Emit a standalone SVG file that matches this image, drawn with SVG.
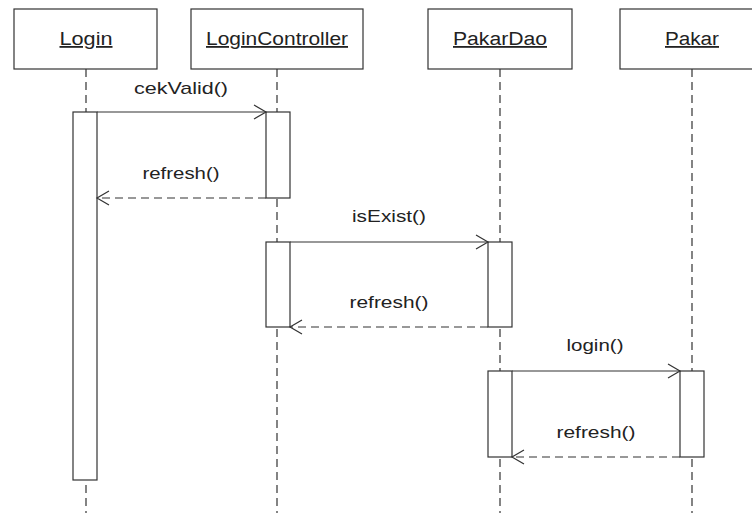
<svg xmlns="http://www.w3.org/2000/svg" width="752" height="513" viewBox="0 0 752 513">
  <style>
    .box { fill: #ffffff; stroke: #333333; stroke-width: 1.2; }
    .life { stroke: #333333; stroke-width: 1.2; stroke-dasharray: 8 5; fill: none; }
    .act { fill: #ffffff; stroke: #333333; stroke-width: 1.2; }
    .title { font-family: "Liberation Sans", Arial, sans-serif; font-size: 18px; fill: #222222; text-anchor: middle; text-decoration: underline; }
    .msg { stroke: #333333; stroke-width: 1.2; fill: none; }
    .ret { stroke: #333333; stroke-width: 1.2; fill: none; stroke-dasharray: 8 5; }
    .head { stroke: #333333; stroke-width: 1.2; fill: none; }
    .label { font-family: "Liberation Sans", Arial, sans-serif; font-size: 17px; fill: #222222; text-anchor: middle; }
  </style>
  <rect width="752" height="513" fill="#ffffff"/>

  <!-- lifelines -->
  <g id="lifelines">
    <line class="life" x1="86" y1="69" x2="86" y2="513"/>
    <line class="life" x1="277" y1="69" x2="277" y2="513"/>
    <line class="life" x1="500" y1="69" x2="500" y2="513"/>
    <line class="life" x1="692" y1="69" x2="692" y2="513"/>
  </g>

  <!-- participants -->
  <g id="login">
    <rect class="box" x="14" y="9" width="143" height="60"/>
    <text class="title" x="86" y="45" textLength="53" lengthAdjust="spacingAndGlyphs">Login</text>
    <rect class="act" x="73" y="112" width="24" height="368"/>
  </g>
  <g id="loginController">
    <rect class="box" x="191" y="9" width="172" height="60"/>
    <text class="title" x="277" y="45" textLength="142" lengthAdjust="spacingAndGlyphs">LoginController</text>
    <rect class="act" x="266" y="112" width="24" height="86"/>
    <rect class="act" x="266" y="242" width="24" height="85"/>
  </g>
  <g id="pakarDao">
    <rect class="box" x="428" y="9" width="144" height="60"/>
    <text class="title" x="500" y="45" textLength="94" lengthAdjust="spacingAndGlyphs">PakarDao</text>
    <rect class="act" x="488" y="242" width="24" height="85"/>
    <rect class="act" x="488" y="371" width="24" height="86"/>
  </g>
  <g id="pakar">
    <rect class="box" x="620" y="9" width="150" height="60"/>
    <text class="title" x="692" y="45" textLength="54" lengthAdjust="spacingAndGlyphs">Pakar</text>
    <rect class="act" x="680" y="371" width="24" height="86"/>
  </g>

  <!-- messages -->
  <g id="connectors">
    <line class="msg" x1="97" y1="112" x2="266" y2="112"/>
    <polyline class="head" points="254,105 266,112 254,119"/>
    <text class="label" x="181" y="94" textLength="94" lengthAdjust="spacingAndGlyphs">cekValid()</text>

    <line class="ret" x1="266" y1="198" x2="97" y2="198"/>
    <polyline class="head" points="109,191 97,198 109,205"/>
    <text class="label" x="181" y="179" textLength="77" lengthAdjust="spacingAndGlyphs">refresh()</text>

    <line class="msg" x1="290" y1="242" x2="488" y2="242"/>
    <polyline class="head" points="476,235 488,242 476,249"/>
    <text class="label" x="389" y="222" textLength="74" lengthAdjust="spacingAndGlyphs">isExist()</text>

    <line class="ret" x1="488" y1="327" x2="290" y2="327"/>
    <polyline class="head" points="302,320 290,327 302,334"/>
    <text class="label" x="389" y="308" textLength="79" lengthAdjust="spacingAndGlyphs">refresh()</text>

    <line class="msg" x1="512" y1="371" x2="680" y2="371"/>
    <polyline class="head" points="668,364 680,371 668,378"/>
    <text class="label" x="595" y="351" textLength="57" lengthAdjust="spacingAndGlyphs">login()</text>

    <line class="ret" x1="680" y1="457" x2="512" y2="457"/>
    <polyline class="head" points="524,450 512,457 524,464"/>
    <text class="label" x="596" y="438" textLength="79" lengthAdjust="spacingAndGlyphs">refresh()</text>
  </g>
</svg>
